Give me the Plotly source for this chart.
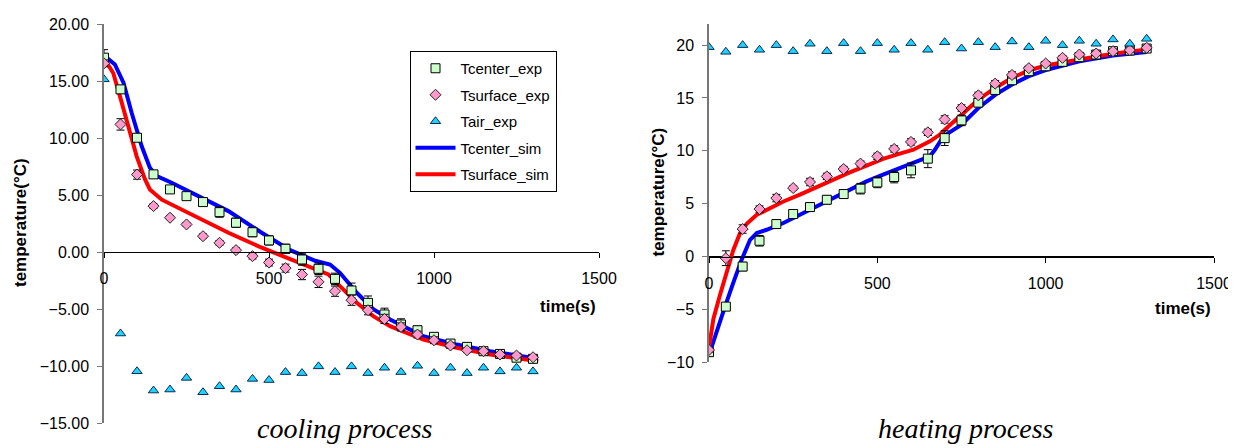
import plotly.graph_objects as go

# ---------------- data ----------------
t_exp = [0, 50, 100, 150, 200, 250, 300, 350, 400, 450, 500, 550, 600, 650, 700,
         750, 800, 850, 900, 950, 1000, 1050, 1100, 1150, 1200, 1250, 1300]

# cooling process
cool_center_exp = [17.05, 14.27, 10.03, 6.82, 5.5, 4.91, 4.39, 3.51, 2.58, 1.75, 1.03, 0.3, -0.64,
                   -1.46, -2.34, -3.36, -4.44, -5.46, -6.34, -6.84, -7.42, -8.01, -8.3, -8.68,
                   -8.92, -9.25, -9.35]
cool_center_err = [0.7, 0.3, 0.3, 0.3, 0.3, 0.3, 0.3, 0.45, 0.4, 0.4, 0.4, 0.4, 0.5, 0.5, 0.5,
                   0.65, 0.6, 0.55, 0.5, 0.35, 0.3, 0.3, 0.3, 0.3, 0.25, 0.25, 0.2]
cool_surface_exp = [16.55, 11.2, 6.8, 4.04, 3.02, 2.43, 1.4, 0.82, 0.18, -0.35, -0.91, -1.4, -1.96,
                    -2.6, -3.42, -4.21, -5.09, -5.85, -6.55, -7.22, -7.72, -8.18, -8.6, -8.68,
                    -8.97, -9.06, -9.21]
cool_surface_err = [0.3, 0.5, 0.4, 0.2, 0.15, 0.15, 0.2, 0.2, 0.2, 0.25, 0.3, 0.35, 0.45, 0.5, 0.45,
                    0.45, 0.4, 0.4, 0.35, 0.3, 0.3, 0.25, 0.2, 0.2, 0.2, 0.15, 0.15]
cool_air_exp = [15.15, -7.13, -10.44, -12.13, -12.04, -11.02, -12.28, -11.75, -12.04, -11.11, -11.21,
                -10.51, -10.6, -10.01, -10.51, -10.01, -10.6, -10.13, -10.51, -9.96, -10.6, -10.13,
                -10.6, -10.13, -10.45, -10.13, -10.45]

cool_center_sim_t = [0, 10, 33, 59, 84, 114, 139, 160, 205, 276, 377, 478, 564, 640, 685, 715, 766,
                     816, 867, 968, 1069, 1170, 1271, 1315]
cool_center_sim = [17.05, 17.0, 16.46, 14.86, 12.2, 9.3, 7.4, 6.67, 6.09, 5.06, 3.6, 1.7, 0.18, -0.75,
                   -1.08, -1.81, -3.56, -5.0, -5.9, -7.37, -8.1, -8.68, -9.12, -9.33]
cool_surface_sim_t = [0, 28, 48, 74, 99, 124, 139, 175, 276, 377, 478, 538, 600, 650, 680, 715, 766,
                      816, 867, 968, 1069, 1170, 1271, 1316]
cool_surface_sim = [17.0, 15.7, 13.7, 11.05, 8.4, 6.4, 5.5, 4.6, 3.16, 1.7, 0.39, -0.3, -1.0, -1.55,
                    -1.95, -2.98, -4.44, -5.61, -6.49, -7.66, -8.39, -8.97, -9.41, -9.56]

# heating process
heat_center_exp = [-9.05, -4.74, -0.95, 1.49, 3.07, 4.02, 4.68, 5.37, 5.91, 6.42, 7.01, 7.52, 8.15,
                   9.26, 11.2, 12.88, 14.56, 15.76, 16.68, 17.53, 18.0, 18.42, 18.86, 19.11, 19.43,
                   19.49, 19.68]
heat_center_err = [0.2, 0.3, 0.4, 0.5, 0.4, 0.4, 0.4, 0.4, 0.4, 0.5, 0.5, 0.55, 0.7, 0.85, 0.7,
                   0.5, 0.4, 0.3, 0.3, 0.25, 0.25, 0.2, 0.2, 0.2, 0.2, 0.2, 0.2]
heat_surface_exp = [-8.84, -0.16, 2.6, 4.49, 5.53, 6.48, 7.05, 7.58, 8.28, 8.79, 9.48, 10.18, 10.84,
                    11.75, 12.97, 14.05, 15.25, 16.36, 17.18, 17.82, 18.26, 18.8, 19.11, 19.21,
                    19.43, 19.53, 19.75]
heat_surface_err = [0.2, 0.7, 0.4, 0.3, 0.35, 0.2, 0.35, 0.3, 0.25, 0.25, 0.3, 0.3, 0.3, 0.3, 0.35,
                    0.3, 0.3, 0.3, 0.3, 0.2, 0.2, 0.2, 0.2, 0.2, 0.2, 0.2, 0.2]
heat_air_exp = [19.81, 19.37, 20.0, 19.56, 20.0, 19.43, 20.13, 19.43, 20.19, 19.43, 20.19, 19.56,
                20.19, 19.56, 20.28, 19.68, 20.28, 19.81, 20.35, 19.81, 20.41, 20.0, 20.41, 20.13,
                20.54, 20.13, 20.6]

heat_center_sim_t = [0, 23, 47, 72, 97, 122, 142, 171, 221, 270, 319, 369, 418, 468, 517, 567, 616,
                     656, 671, 696, 750, 800, 850, 900, 950, 1000, 1100, 1200, 1300]
heat_center_sim = [-9.3, -7.0, -4.8, -2.5, -0.3, 1.58, 2.22, 2.53, 3.17, 3.95, 4.74, 5.53, 6.32, 7.11,
                   7.74, 8.38, 8.95, 9.48, 10.1, 11.37, 12.47, 14.05, 15.3, 16.27, 17.06, 17.63,
                   18.48, 19.02, 19.34]
heat_surface_sim_t = [0, 5, 13, 33, 52, 72, 92, 112, 142, 171, 221, 270, 319, 369, 418, 468, 517,
                      567, 607, 656, 686, 711, 750, 800, 850, 900, 950, 1000, 1100, 1200, 1300]
heat_surface_sim = [-8.6, -7.3, -5.9, -3.6, -1.4, 0.6, 2.2, 3.1, 3.95, 4.43, 5.21, 5.85, 6.58, 7.27,
                    7.96, 8.6, 9.23, 9.73, 10.11, 10.9, 11.54, 12.3, 13.4, 14.84, 15.95, 16.9, 17.6,
                    18.07, 18.64, 19.18, 19.6]

x_ticks = [0, 500, 1000, 1500]
cool_y_ticks = [20, 15, 10, 5, 0, -5, -10, -15]
heat_y_ticks = [20, 15, 10, 5, 0, -5, -10]
cool_y_range = [-15, 20]
heat_y_range = [-10, 22]
x_range = [0, 1500]

# ---------------- styles ----------------
PAGE_W, PAGE_H = 1236, 448
OFF = 8  # default page body margin of the html document
W, H = PAGE_W - OFF, PAGE_H - OFF
SANS = "Liberation Sans, Arial, sans-serif"
SERIF = "Liberation Serif, Times New Roman, serif"
BLUE, RED = "#0000FF", "#FF0000"
SQ_FILL, DI_FILL, TR_FILL = "#CCFFCC", "#FF99CC", "#1FD3FF"


def px(x):
    """page pixel x -> paper x"""
    return (x - OFF) / W


def py(y):
    """page pixel y (from top) -> paper y"""
    return (H + OFF - y) / H


fig = go.Figure()


def add_panel(xa, ya, c_exp, c_err, s_exp, s_err, a_exp, c_t, c_sim, s_t, s_sim, show):
    fig.add_trace(go.Scatter(x=c_t, y=c_sim, mode="lines", name="Tcenter_sim",
                             line=dict(color=BLUE, width=4), xaxis=xa, yaxis=ya,
                             showlegend=show, legendrank=4, legendgroup="g4"))
    fig.add_trace(go.Scatter(x=s_t, y=s_sim, mode="lines", name="Tsurface_sim",
                             line=dict(color=RED, width=4), xaxis=xa, yaxis=ya,
                             showlegend=show, legendrank=5, legendgroup="g5"))
    fig.add_trace(go.Scatter(x=t_exp, y=c_exp, mode="markers", name="Tcenter_exp",
                             marker=dict(symbol="square", size=9, color=SQ_FILL,
                                         line=dict(color="#000000", width=1)),
                             error_y=dict(type="data", array=c_err, visible=True,
                                          color="#000000", thickness=1, width=4),
                             xaxis=xa, yaxis=ya, showlegend=show, legendrank=1, legendgroup="g1"))
    fig.add_trace(go.Scatter(x=t_exp, y=s_exp, mode="markers", name="Tsurface_exp",
                             marker=dict(symbol="diamond", size=8.5, color=DI_FILL,
                                         line=dict(color="#222222", width=1)),
                             error_y=dict(type="data", array=s_err, visible=True,
                                          color="#000000", thickness=1, width=4),
                             xaxis=xa, yaxis=ya, showlegend=show, legendrank=2, legendgroup="g2"))
    fig.add_trace(go.Scatter(x=t_exp, y=a_exp, mode="markers", name="Tair_exp",
                             marker=dict(symbol="triangle-up", size=9, color=TR_FILL,
                                         line=dict(color="#0A2A55", width=1)),
                             xaxis=xa, yaxis=ya, showlegend=show, legendrank=3, legendgroup="g3"))


add_panel("x", "y", cool_center_exp, cool_center_err, cool_surface_exp, cool_surface_err,
          cool_air_exp, cool_center_sim_t, cool_center_sim, cool_surface_sim_t, cool_surface_sim, True)
add_panel("x2", "y2", heat_center_exp, heat_center_err, heat_surface_exp, heat_surface_err,
          heat_air_exp, heat_center_sim_t, heat_center_sim, heat_surface_sim_t, heat_surface_sim, False)

# panel geometry (page pixels -> paper)
L_X = [px(104), px(599)]
L_Y = [py(423.3), py(24)]
R_X = [px(709), px(1214)]
R_Y = [py(362.2), py(24)]


def zero_pos(dom, rng):
    return dom[0] + (0 - rng[0]) / (rng[1] - rng[0]) * (dom[1] - dom[0])


xcommon = dict(range=x_range, tickvals=x_ticks, showgrid=False, zeroline=False, showline=True,
               linecolor="#000000", linewidth=1, ticks="outside", ticklen=5, tickcolor="#000000",
               tickfont=dict(family=SANS, size=16, color="#000000"), ticklabelstandoff=7,
               anchor="free", automargin=False)
ycommon = dict(showgrid=False, zeroline=True, zerolinecolor="#000000", zerolinewidth=1,
               showline=True, linecolor="#777777", linewidth=1.5,
               ticks="outside", ticklen=5, tickcolor="#777777", automargin=False,
               tickfont=dict(family=SANS, size=16, color="#000000"), ticklabelstandoff=5)

fig.update_layout(
    width=W, height=H, margin=dict(l=0, r=0, t=0, b=0, autoexpand=False),
    paper_bgcolor="white", plot_bgcolor="rgba(0,0,0,0)",
    xaxis=dict(domain=L_X, position=zero_pos(L_Y, cool_y_range), **xcommon),
    yaxis=dict(domain=L_Y, range=cool_y_range, tickvals=cool_y_ticks, tickformat=".2f",
               anchor="x", **ycommon),
    xaxis2=dict(domain=R_X, position=zero_pos(R_Y, heat_y_range), **xcommon),
    yaxis2=dict(domain=R_Y, range=heat_y_range, tickvals=heat_y_ticks, tickformat="d",
                anchor="x2", **ycommon),
    legend=dict(x=px(409.5), y=py(51), xanchor="left", yanchor="top",
                bgcolor="white", bordercolor="#000000", borderwidth=1,
                font=dict(family=SANS, size=15, color="#000000"),
                tracegroupgap=4, itemwidth=40, traceorder="grouped"),
    showlegend=True,
)

ann_bold = dict(family=SANS, size=17, color="#000000", weight="bold")
fig.add_annotation(x=1405, y=-4.75, xref="x", yref="y", text="time(s)", showarrow=False,
                   font=ann_bold, xanchor="center", yanchor="middle")
fig.add_annotation(x=1407, y=-4.89, xref="x2", yref="y2", text="time(s)", showarrow=False,
                   font=ann_bold, xanchor="center", yanchor="middle")
fig.add_annotation(x=px(20), y=py(223), xref="paper", yref="paper", text="temperature(°C)",
                   textangle=-90, showarrow=False, font=ann_bold, xanchor="center", yanchor="middle")
fig.add_annotation(x=px(658), y=py(192.5), xref="paper", yref="paper", text="temperature(°C)",
                   textangle=-90, showarrow=False, font=ann_bold, xanchor="center", yanchor="middle")

cap_font = dict(family=SERIF, size=28, color="#000000", style="italic")
fig.add_annotation(x=px(345), y=py(428), xref="paper", yref="paper", text="cooling process",
                   showarrow=False, font=cap_font, xanchor="center", yanchor="middle")
fig.add_annotation(x=px(966), y=py(428), xref="paper", yref="paper", text="heating process",
                   showarrow=False, font=cap_font, xanchor="center", yanchor="middle")

fig.write_html("out.html")
